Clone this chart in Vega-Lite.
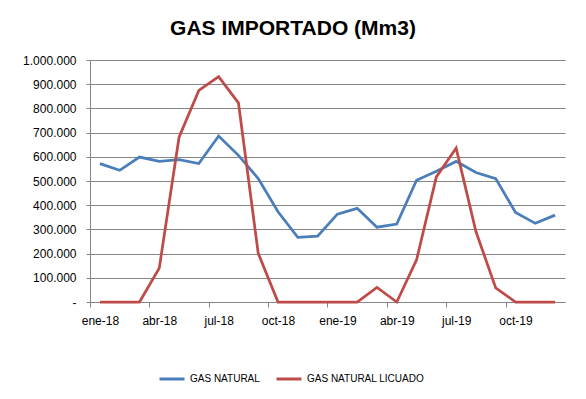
{
  "$schema": "https://vega.github.io/schema/vega-lite/v6.json",
  "width": 475,
  "height": 242,
  "autosize": "none",
  "padding": {"left": 90, "top": 60, "right": 21, "bottom": 97},
  "background": "white",
  "config": {
    "locale": {"number": {"decimal": ",", "thousands": ".", "grouping": [3], "currency": ["", ""]}},
    "view": {"stroke": null},
    "font": "Liberation Sans"
  },
  "title": {
    "text": "GAS IMPORTADO (Mm3)",
    "fontSize": 21,
    "font": "Liberation Sans",
    "fontWeight": "bold",
    "color": "#000000",
    "anchor": "middle",
    "dx": -34.5,
    "baseline": "alphabetic",
    "offset": -2
  },
  "data": {
    "values": [
      {"mes": "ene-18", "serie": "GAS NATURAL", "valor": 572000},
      {"mes": "feb-18", "serie": "GAS NATURAL", "valor": 544000},
      {"mes": "mar-18", "serie": "GAS NATURAL", "valor": 599000},
      {"mes": "abr-18", "serie": "GAS NATURAL", "valor": 581000},
      {"mes": "may-18", "serie": "GAS NATURAL", "valor": 588000},
      {"mes": "jun-18", "serie": "GAS NATURAL", "valor": 572000},
      {"mes": "jul-18", "serie": "GAS NATURAL", "valor": 686000},
      {"mes": "ago-18", "serie": "GAS NATURAL", "valor": 606000},
      {"mes": "sep-18", "serie": "GAS NATURAL", "valor": 510000},
      {"mes": "oct-18", "serie": "GAS NATURAL", "valor": 373000},
      {"mes": "nov-18", "serie": "GAS NATURAL", "valor": 267000},
      {"mes": "dic-18", "serie": "GAS NATURAL", "valor": 272000},
      {"mes": "ene-19", "serie": "GAS NATURAL", "valor": 363000},
      {"mes": "feb-19", "serie": "GAS NATURAL", "valor": 387000},
      {"mes": "mar-19", "serie": "GAS NATURAL", "valor": 309000},
      {"mes": "abr-19", "serie": "GAS NATURAL", "valor": 322000},
      {"mes": "may-19", "serie": "GAS NATURAL", "valor": 503000},
      {"mes": "jun-19", "serie": "GAS NATURAL", "valor": 540000},
      {"mes": "jul-19", "serie": "GAS NATURAL", "valor": 581000},
      {"mes": "ago-19", "serie": "GAS NATURAL", "valor": 535000},
      {"mes": "sep-19", "serie": "GAS NATURAL", "valor": 510000},
      {"mes": "oct-19", "serie": "GAS NATURAL", "valor": 370000},
      {"mes": "nov-19", "serie": "GAS NATURAL", "valor": 325000},
      {"mes": "dic-19", "serie": "GAS NATURAL", "valor": 359000},
      {"mes": "ene-18", "serie": "GAS NATURAL LICUADO", "valor": 0},
      {"mes": "feb-18", "serie": "GAS NATURAL LICUADO", "valor": 0},
      {"mes": "mar-18", "serie": "GAS NATURAL LICUADO", "valor": 0},
      {"mes": "abr-18", "serie": "GAS NATURAL LICUADO", "valor": 140000},
      {"mes": "may-18", "serie": "GAS NATURAL LICUADO", "valor": 681000},
      {"mes": "jun-18", "serie": "GAS NATURAL LICUADO", "valor": 874000},
      {"mes": "jul-18", "serie": "GAS NATURAL LICUADO", "valor": 931000},
      {"mes": "ago-18", "serie": "GAS NATURAL LICUADO", "valor": 823000},
      {"mes": "sep-18", "serie": "GAS NATURAL LICUADO", "valor": 201000},
      {"mes": "oct-18", "serie": "GAS NATURAL LICUADO", "valor": 0},
      {"mes": "nov-18", "serie": "GAS NATURAL LICUADO", "valor": 0},
      {"mes": "dic-18", "serie": "GAS NATURAL LICUADO", "valor": 0},
      {"mes": "ene-19", "serie": "GAS NATURAL LICUADO", "valor": 0},
      {"mes": "feb-19", "serie": "GAS NATURAL LICUADO", "valor": 0},
      {"mes": "mar-19", "serie": "GAS NATURAL LICUADO", "valor": 60000},
      {"mes": "abr-19", "serie": "GAS NATURAL LICUADO", "valor": 0},
      {"mes": "may-19", "serie": "GAS NATURAL LICUADO", "valor": 174000},
      {"mes": "jun-19", "serie": "GAS NATURAL LICUADO", "valor": 517000},
      {"mes": "jul-19", "serie": "GAS NATURAL LICUADO", "valor": 636000},
      {"mes": "ago-19", "serie": "GAS NATURAL LICUADO", "valor": 291000},
      {"mes": "sep-19", "serie": "GAS NATURAL LICUADO", "valor": 58000},
      {"mes": "oct-19", "serie": "GAS NATURAL LICUADO", "valor": 0},
      {"mes": "nov-19", "serie": "GAS NATURAL LICUADO", "valor": 0},
      {"mes": "dic-19", "serie": "GAS NATURAL LICUADO", "valor": 0}
    ]
  },
  "mark": {"type": "line", "strokeWidth": 2.75},
  "encoding": {
    "x": {
      "field": "mes",
      "type": "ordinal",
      "scale": {
        "type": "point",
        "padding": 0.5,
        "domain": ["ene-18", "feb-18", "mar-18", "abr-18", "may-18", "jun-18", "jul-18", "ago-18", "sep-18", "oct-18", "nov-18", "dic-18", "ene-19", "feb-19", "mar-19", "abr-19", "may-19", "jun-19", "jul-19", "ago-19", "sep-19", "oct-19", "nov-19", "dic-19"]
      },
      "axis": {
        "title": null,
        "values": ["ene-18", "abr-18", "jul-18", "oct-18", "ene-19", "abr-19", "jul-19", "oct-19"],
        "labelAngle": 0,
        "tickOffset": -9.9,
        "labelOffset": 9.9,
        "domainColor": "#868686",
        "tickColor": "#868686",
        "tickSize": 5,
        "labelFontSize": 12,
        "labelColor": "#000000",
        "labelPadding": 8,
        "grid": false
      }
    },
    "y": {
      "field": "valor",
      "type": "quantitative",
      "scale": {"domain": [0, 1000000], "nice": false},
      "axis": {
        "title": null,
        "values": [0, 100000, 200000, 300000, 400000, 500000, 600000, 700000, 800000, 900000, 1000000],
        "format": ",d",
        "labelExpr": "datum.value == 0 ? '-' : datum.label",
        "gridColor": "#868686",
        "domainColor": "#868686",
        "tickColor": "#868686",
        "tickSize": 4,
        "labelPadding": 10,
        "labelFontSize": 12,
        "labelColor": "#000000"
      }
    },
    "color": {
      "field": "serie",
      "type": "nominal",
      "scale": {"domain": ["GAS NATURAL", "GAS NATURAL LICUADO"], "range": ["#4A7EBB", "#BE4B48"]},
      "legend": {
        "title": null,
        "orient": "none",
        "direction": "horizontal",
        "legendX": 68,
        "legendY": 305,
        "symbolType": "stroke",
        "symbolSize": 625,
        "symbolStrokeWidth": 3,
        "labelFontSize": 10,
        "labelOffset": 4,
        "columnPadding": 10,
        "labelColor": "#000000"
      }
    }
  }
}
